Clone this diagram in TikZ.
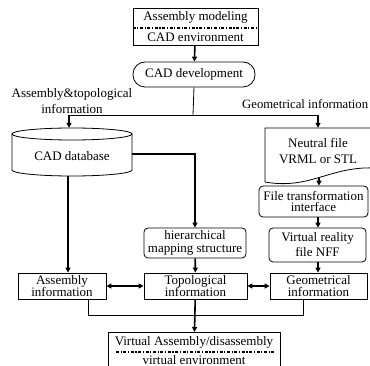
\documentclass[tikz,border=0pt]{standalone}
\usepackage{fontspec}
\setmainfont{Liberation Serif}
\usetikzlibrary{arrows.meta}
\begin{document}
\begin{tikzpicture}[x=1pt,y=-1pt,
  font=\fontsize{13}{12.5}\selectfont,
  box/.style={draw,line width=0.8pt,inner sep=0pt,align=center},
  rbox/.style={box,rounded corners=4pt},
  txt/.style={inner sep=0pt,align=center},
  thin line/.style={line width=0.8pt},
  arr/.style={line width=1.6pt,-{Triangle[length=5pt,width=5pt]}},
  darr/.style={line width=1.6pt,{Triangle[length=5pt,width=5pt]}-{Triangle[length=5pt,width=5pt]}},
  dashdot/.style={line width=1.3pt,dash pattern=on 3pt off 1.6pt on 1.2pt off 1.6pt}
]
\useasboundingbox (0,0) rectangle (370,366);
% top box
\node[box,minimum width=125pt,minimum height=37pt] (top) at (195.5,26.5) {};
\node[txt] (t1) at (195.5,17) {Assembly modeling};
\node[txt] (t2) at (195.5,37) {CAD environment};
\draw[dashdot] (top.west |- 0,28) -- (top.east |- 0,28);
% CAD development
\node[box,rounded corners=12pt,minimum width=122pt,minimum height=25pt] (dev) at (194,74.5) {CAD development};
% labels
\node[txt,font=\fontsize{13}{15.5}\selectfont] (lab1) at (72,101) {Assembly\&topological\\information};
\node[txt,anchor=west,font=\fontsize{12.7}{14}\selectfont] (lab2) at (242,104) {Geometrical information};
% junctions
\coordinate (jc) at (193,115);
\coordinate (jl) at (69,115);
\coordinate (jr) at (318,115);
\coordinate (jb) at (88,315);
% cylinder database
\node[txt,minimum width=120pt,minimum height=48pt] (db) at (72,152) {};
\draw[thin line] (12,134) -- (12,170) arc[start angle=180,end angle=360,x radius=60pt,y radius=6pt] -- (132,134);
\draw[thin line] (72,134) ellipse[x radius=60pt,y radius=6pt];
\node[txt] (dbt) at (72,156) {CAD database};
% document shape
\node[txt,minimum width=105pt,minimum height=50pt] (doc) at (318,153) {};
\draw[thin line] (265,128) -- (375,128) -- (375,168) .. controls (330,166) and (310,190) .. (265,182) -- cycle;
\node[txt,font=\fontsize{13}{16}\selectfont] (doct) at (318,151) {Neutral file\\VRML or STL};
\coordinate (docb) at (319,178);
% file transformation
\node[rbox,minimum width=109pt,minimum height=31pt,font=\fontsize{13}{11.5}\selectfont] (ft) at (313.5,201.5) {File transformation\\interface};
% VR
\node[rbox,minimum width=97pt,minimum height=34pt,font=\fontsize{13}{15}\selectfont] (vr) at (317.5,245) {Virtual reality\\file NFF};
% hierarchical
\node[rbox,minimum width=102pt,minimum height=30pt,font=\fontsize{13}{13}\selectfont] (hier) at (195,243) {hierarchical\\mapping structure};
% info boxes
\node[box,minimum width=88pt,minimum height=26pt] (asm) at (62,286) {Assembly\\information};
\node[box,minimum width=103pt,minimum height=26pt] (topo) at (195.5,286) {Topological\\information};
\node[box,minimum width=97pt,minimum height=26pt] (geo) at (318.5,286) {Geometrical\\information};
% final box
\node[box,minimum width=172pt,minimum height=44pt,anchor=north] (fin) at (194,332) {};
\node[txt] (f1) at (194,342) {Virtual Assembly/disassembly};
\node[txt] (f2) at (194,360) {virtual environment};
\draw[dashdot] (116,352) -- (275,352);
% connectors
\draw[arr] (top) -- (dev);
\draw[thin line] (dev.south) -- (jc);
\draw[thin line] (jl) -- (jr);
\draw[arr] (jl) -- (jl |- db.north);
\draw[arr] (jr) -- (jr |- doc.north);
\draw[arr] (db.east |- 0,154) -| (hier.north);
\draw[arr] (db.south -| 68,0) -- (asm.north -| 68,0);
\draw[arr] (docb) -- (docb |- ft.north);
\draw[arr] (ft.south -| 318,0) -- (vr.north -| 318,0);
\draw[arr] (vr.south -| 318,0) -- (geo.north -| 318,0);
\draw[arr] (hier) -- (topo);
\draw[darr] (asm) -- (topo);
\draw[darr] (topo) -- (geo);
\draw[thin line] (asm.south -| jb) -- (jb) -| (geo.south -| 303,0);
\draw[arr] (topo) -- (fin);
\end{tikzpicture}
\end{document}
